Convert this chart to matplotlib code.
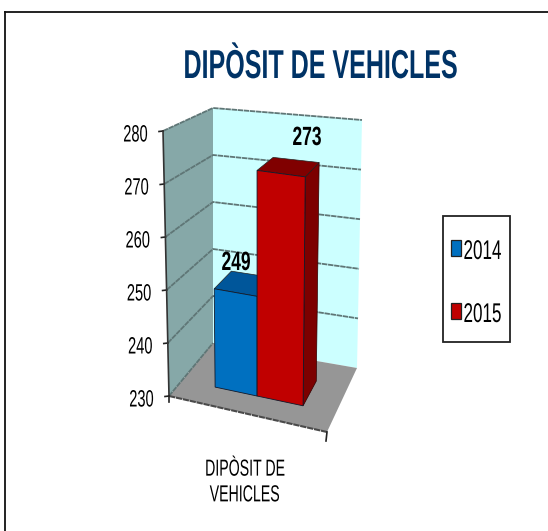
import numpy as np
import matplotlib
matplotlib.use("Agg")
import matplotlib.pyplot as plt
import matplotlib.patheffects as pe
from matplotlib.patches import Polygon, Rectangle
from matplotlib.transforms import Affine2D

title = "DIPÒSIT DE VEHICLES"
category_label = "DIPÒSIT DE\nVEHICLES"
series_names = ["2014", "2015"]
series_values = [249, 273]
y_ticks = [230, 240, 250, 260, 270, 280]

FACE = ["#0070C0", "#C00000"]
TOP = ["#00569A", "#800000"]
SIDE = ["#004A80", "#7C0000"]
FONT = "Liberation Sans"


class Condense(pe.AbstractPathEffect):
    """Squeeze text horizontally about its left, centre or right edge."""

    def __init__(self, sx, anchor="center"):
        super().__init__()
        self.sx = sx
        self.anchor = anchor

    def draw_path(self, renderer, gc, tpath, affine, rgbFace=None):
        ext = tpath.get_extents()
        a = {"left": ext.x0, "center": (ext.x0 + ext.x1) / 2, "right": ext.x1}[self.anchor]
        t = Affine2D().translate(-a, 0).scale(self.sx, 1).translate(a, 0) + affine
        renderer.draw_path(gc, tpath, t, rgbFace)


# projected box corners in pixels: (u, w, v) -> front/back, left/right, bottom/top
C = {
    (0, 0, 0): (169, 396), (1, 0, 0): (327, 432),
    (0, 1, 0): (213, 343), (1, 1, 0): (357, 368),
    (0, 0, 1): (163, 131), (1, 0, 1): (331, 154),
    (0, 1, 1): (213, 108), (1, 1, 1): (362, 120),
}
Y0, Y1 = y_ticks[0], y_ticks[-1]


def proj(u, w, val):
    v = (val - Y0) / (Y1 - Y0)
    p = np.zeros(2)
    for a, wa in ((0, 1 - u), (1, u)):
        for b, wb in ((0, 1 - w), (1, w)):
            for c, wc in ((0, 1 - v), (1, v)):
                p += wa * wb * wc * np.array(C[(a, b, c)])
    return tuple(p)


fig = plt.figure(figsize=(5.48, 5.31), dpi=100)
ax = fig.add_axes([0, 0, 1, 1])
ax.set_xlim(0, 548)
ax.set_ylim(531, 0)
ax.axis("off")


def label(x, y, s, size, sx, ha="center", weight="normal", color="black", va="baseline", **kw):
    t = ax.text(x, y, s, ha=ha, va=va, family=FONT, fontsize=size, fontweight=weight,
                color=color, zorder=7, **kw)
    t.set_path_effects([Condense(sx, ha)])
    return t


# outer frame
ax.plot([5, 5], [531, 12], color="#111111", lw=1.3)
ax.plot([5, 548], [12, 12], color="#111111", lw=1.3)

# walls and floor
ax.add_patch(Polygon([proj(0, 0, Y0), proj(0, 1, Y0), proj(0, 1, Y1), proj(0, 0, Y1)],
                     fc="#86A8A8", ec="none", zorder=1))
ax.add_patch(Polygon([proj(0, 1, Y0), proj(1, 1, Y0), proj(1, 1, Y1), proj(0, 1, Y1)],
                     fc="#CCFFFF", ec="none", zorder=1))
ax.add_patch(Polygon([proj(0, 0, Y0), proj(1, 0, Y0), proj(1, 1, Y0), proj(0, 1, Y0)],
                     fc="#969696", ec="none", zorder=1))

# gridlines, ticks, tick labels
for t in y_ticks:
    pts = [proj(0, 0, t), proj(0, 1, t), proj(1, 1, t)]
    if t == Y0:
        pts = [proj(0, 0, t), proj(0, 1, t)]
    xs, ys = zip(*pts)
    ax.plot(xs, ys, color="#5F7676", lw=1.3, ls=(0, (3, 0.4)), zorder=2)
    x, y = proj(0, 0, t)
    ax.plot([x - 4, x], [y + 0.5, y], color="#222222", lw=1.2, zorder=2)
    label(x - 15, y + 10.5, str(t), 17, 0.62, ha="right")

# floor front edge and axis lines
xs, ys = zip(proj(0, 0, Y0), proj(1, 0, Y0))
ax.plot(xs, ys, color="#4A4A4A", lw=1.5, ls=(0, (3, 0.4)), zorder=2)
xs, ys = zip(proj(0, 0, Y0), proj(0, 0, Y1))
ax.plot(xs, ys, color="#333333", lw=1.2, zorder=2)
x, y = proj(1, 0, Y0)
ax.plot([x, x - 1], [y, y + 9], color="#222222", lw=1.2, zorder=2)
x, y = proj(0, 0, Y0)
ax.plot([x, x], [y, y + 6], color="#222222", lw=1.2, zorder=2)

# bars
u_edges = [0.214, 0.487, 0.786]
w0, w1 = 0.30, 0.70
label_pos = [(236, 270), (307, 145)]
for i, val in enumerate(series_values):
    u0, u1 = u_edges[i], u_edges[i + 1]
    ax.add_patch(Polygon([proj(u1, w0, Y0), proj(u1, w1, Y0), proj(u1, w1, val), proj(u1, w0, val)],
                         fc=SIDE[i], ec="#300000", lw=0.5, zorder=3 + i))
    ax.add_patch(Polygon([proj(u0, w0, val), proj(u1, w0, val), proj(u1, w1, val), proj(u0, w1, val)],
                         fc=TOP[i], ec="#222222", lw=0.5, zorder=3 + i))
    ax.add_patch(Polygon([proj(u0, w0, Y0), proj(u1, w0, Y0), proj(u1, w0, val), proj(u0, w0, val)],
                         fc=FACE[i], ec="#10182A", lw=0.6, zorder=3 + i))
    label(*label_pos[i], str(val), 19, 0.66, weight="bold")

# title and category label
label(320.5, 78, title, 29, 0.622, weight="bold", color="#003366")
label(244.5, 482, category_label, 16.7, 0.61, va="center", linespacing=1.15)

# legend
ax.add_patch(Rectangle((443, 216), 67, 126, fc="white", ec="#222222", lw=1.3, zorder=5))
for name, col, sw_y, base_y in zip(series_names, FACE, (240, 303), (259, 322)):
    ax.add_patch(Rectangle((451, sw_y), 10, 16, fc=col, ec="#222222", lw=0.9, zorder=6))
    label(463, base_y, name, 19.5, 0.63, ha="left")

fig.savefig("out.png", dpi=100)
